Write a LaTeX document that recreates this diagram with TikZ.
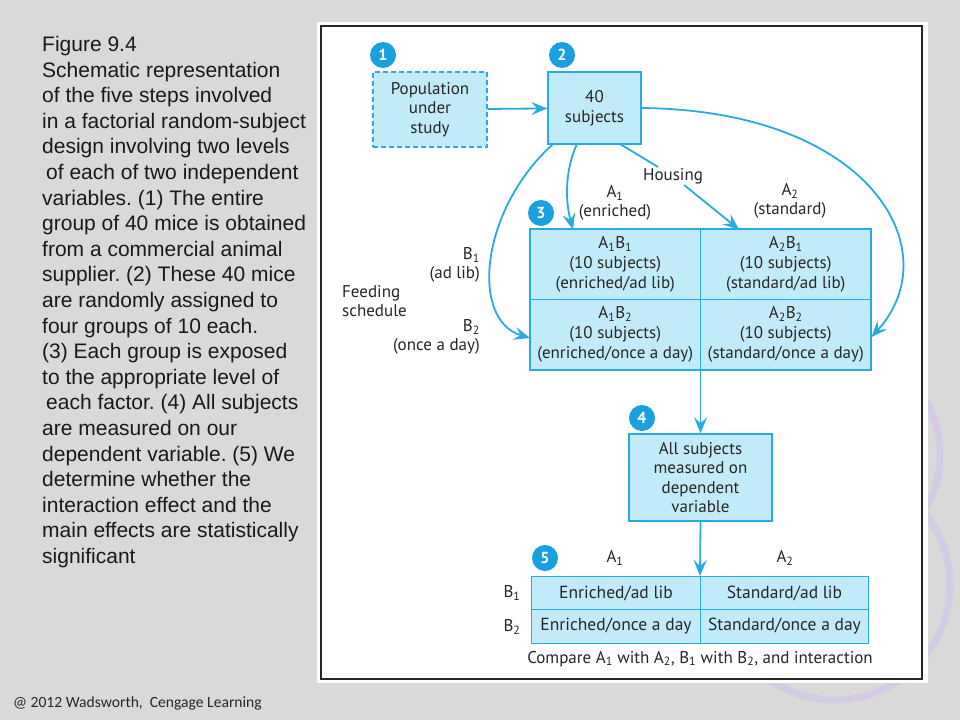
\documentclass[tikz,border=0pt]{standalone}
\usepackage{fontspec}
\setmainfont{Liberation Sans}
\newfontfamily\figfont{PT Sans}
\newfontfamily\notefont{Carlito}
\usetikzlibrary{arrows.meta,positioning}
\definecolor{slidebg}{HTML}{D9D9D9}
\definecolor{linecol}{HTML}{29ABE2}
\definecolor{boxcol}{HTML}{C2EBFA}
\definecolor{numcol}{HTML}{1A9FE0}
\definecolor{txtcol}{HTML}{262626}
\definecolor{ringcol}{HTML}{D3CAE3}
\tikzset{
    stepbox/.style={
           rectangle,
           draw=linecol, line width=1.4pt,
           fill=boxcol,
           text=txtcol,
           font=\figfont\fontsize{17}{19.5}\selectfont,
           align=center,
           inner sep=0pt,
           },
    cell/.style={stepbox, minimum width=170.5pt, minimum height=70.5pt,
           font=\figfont\fontsize{17}{20}\selectfont},
    smallcell/.style={stepbox, minimum width=168.5pt, minimum height=33.5pt,
           font=\figfont\fontsize{17.5}{20}\selectfont},
    num/.style={circle, fill=numcol, text=white, inner sep=0pt,
           minimum size=26pt, font=\figfont\bfseries\fontsize{16}{16}\selectfont},
    tag/.style={text=txtcol, inner sep=1pt, align=center,
           font=\figfont\fontsize{17}{18.5}\selectfont},
    line/.style={draw=linecol, line width=1.8pt},
    flow/.style={line, ->},
}
\begin{document}
\begin{tikzpicture}[x=1pt,y=-1pt,>={Stealth[length=16pt,width=13pt,inset=6pt]}]
	\useasboundingbox (0,0) rectangle (960,720);
	\fill[slidebg] (0,0) rectangle (960,720);
	% template rings
	\draw[ringcol, line width=7pt] (832,455) circle (108);
	\draw[ringcol, line width=7pt] (835,585) circle (115);

	% caption
	\node[anchor=north west, align=left, inner sep=0pt, text=black!90,
		font=\frenchspacing\fontsize{21}{25.6}\selectfont] (caption) at (42,36)
		{Figure 9.4\\
		Schematic representation\\
		of the five steps involved\\
		in a factorial random-subject\\
		design involving two levels\\
		\hspace{4pt}of each of two independent\\
		variables. (1) The entire\\
		group of 40 mice is obtained\\
		from a commercial animal\\
		supplier. (2) These 40 mice\\
		are randomly assigned to\\
		four groups of 10 each.\\
		(3) Each group is exposed\\
		to the appropriate level of\\
		\hspace{4pt}each factor. (4) All subjects\\
		are measured on our\\
		dependent variable. (5) We\\
		determine whether the\\
		interaction effect and the\\
		main effects are statistically\\
		significant};
	\node[anchor=west, inner sep=0pt, text=black!85,
		font=\notefont\fontsize{15.6}{17}\selectfont] (credit) at (13,703)
		{@ 2012 Wadsworth,\ \ Cengage Learning};

	% panel
	\fill[white] (317,22) rectangle (928,683);
	\draw[line width=2pt, black!85] (321,26) rectangle (922,679);

	% step 1 and 2
	\node[stepbox, dash pattern=on 5pt off 3pt, minimum width=114pt, minimum height=75pt] (pop) at (430,109.5)
		{Population\\under\\study};
	\node[stepbox, minimum width=93pt, minimum height=72pt] (forty) at (594.5,108)
		{40\\subjects};
	\node[num] (n1) at (383,55) {1};
	\node[num] (n2) at (562,55) {2};

	% step 3
	\node[cell] (a1b1) at (615.25,264.25)
		{A\textsubscript{1}B\textsubscript{1}\\(10 subjects)\\(enriched/ad lib)};
	\node[cell] (a2b1) at (785.75,264.25)
		{A\textsubscript{2}B\textsubscript{1}\\(10 subjects)\\(standard/ad lib)};
	\node[cell] (a1b2) at (615.25,334.75)
		{A\textsubscript{1}B\textsubscript{2}\\(10 subjects)\\(enriched/once a day)};
	\node[cell] (a2b2) at (785.75,334.75)
		{A\textsubscript{2}B\textsubscript{2}\\(10 subjects)\\(standard/once a day)};
	\node[num] (n3) at (541,213) {3};

	\node[tag] (housing) at (673,176) {Housing};
	\node[tag] (lvA1) at (615,203) {A\textsubscript{1}\\(enriched)};
	\node[tag] (lvA2) at (790,201) {A\textsubscript{2}\\(standard)};
	\node[tag, anchor=east, align=right] (lvB1) at (481,265) {B\textsubscript{1}\\(ad lib)};
	\node[tag, anchor=east, align=right] (lvB2) at (481,337) {B\textsubscript{2}\\(once a day)};
	\node[tag, anchor=west, align=left] (feeding) at (341,301) {Feeding\\schedule};

	% step 4
	\node[stepbox, minimum width=143pt, minimum height=87pt] (measure) at (700.5,477.5)
		{All subjects\\measured on\\dependent\\variable};
	\node[num] (n4) at (642,418) {4};

	% step 5
	\node[smallcell] (e1) at (616,593) {Enriched/ad lib};
	\node[smallcell] (s1) at (784.5,593) {Standard/ad lib};
	\node[smallcell] (e2) at (616,626.5) {Enriched/once a day};
	\node[smallcell] (s2) at (784.5,626.5) {Standard/once a day};
	\node[num] (n5) at (545,558) {5};
	\node[tag] (cA1) at (615,558) {A\textsubscript{1}};
	\node[tag] (cA2) at (785,558) {A\textsubscript{2}};
	\node[tag] (cB1) at (512,593) {B\textsubscript{1}};
	\node[tag] (cB2) at (512,627) {B\textsubscript{2}};
	\node[tag] (compare) at (700,659)
		{Compare A\textsubscript{1} with A\textsubscript{2}, B\textsubscript{1} with B\textsubscript{2}, and interaction};

	% connector ends
	\coordinate (fl) at (553,144);
	\coordinate (fm) at (577,144);
	\coordinate (fh) at (620,144);
	\coordinate (fr) at (641,108);
	\coordinate (inA1) at (573,229.5);
	\coordinate (inA2) at (739,229.5);
	\coordinate (inB2) at (530,338);
	\coordinate (inR) at (871.5,337);
	\coordinate (out3) at (700.5,369.5);
	\coordinate (in5) at (700,576);

	\path[flow] (pop) -- (forty);
	\path[flow] (fl) .. controls (480,210) and (470,320) .. (inB2);
	\path[flow] (fm) .. controls (565,170) and (565,200) .. (inA1);
	\path[line] (fh) -- (housing);
	\path[flow] (housing) -- (inA2);
	\path[flow] (fr) .. controls (870,110) and (950,250) .. (inR);
	\path[flow] (out3) -- (measure.north);
	\path[flow] (measure.south) -- (in5);
\end{tikzpicture}
\end{document}
